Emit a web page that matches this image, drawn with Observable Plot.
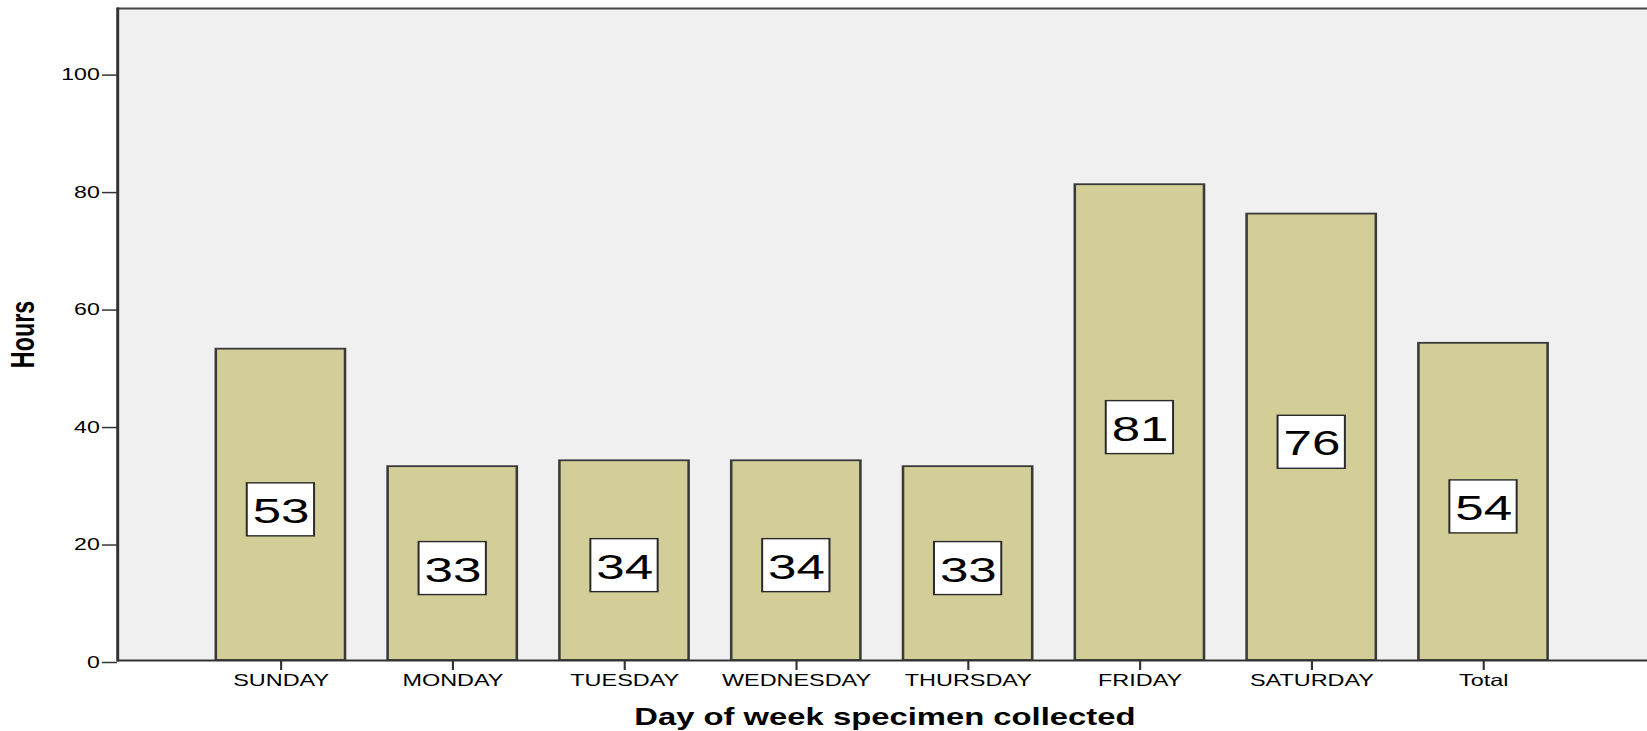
<!DOCTYPE html>
<html>
<head>
<meta charset="utf-8">
<script src="https://cdn.jsdelivr.net/npm/d3@7"></script>
<script src="https://cdn.jsdelivr.net/npm/@observablehq/plot@0.6"></script>
<style>
  html, body { margin: 0; padding: 0; background: #ffffff; overflow: hidden; }
  #chart svg { display: block; transform-origin: 0 0; transform: scaleX(1.41983); }
</style>
</head>
<body>
<div id="chart"></div>
<script>
const days = ["SUNDAY", "MONDAY", "TUESDAY", "WEDNESDAY", "THURSDAY", "FRIDAY", "SATURDAY", "Total"];
const hours = [53, 33, 34, 34, 33, 81, 76, 54];
const yTicks = [0, 20, 40, 60, 80, 100];
const yTitle = "Hours";
const xTitle = "Day of week specimen collected";

const data = days.map((d, i) => ({day: d, hours: hours[i]}));
const boxHalf = 4.51; // half height of the value label box, in hours
const font = "'Liberation Sans', Arial, sans-serif";

const chart = Plot.plot({
  width: 1160,
  height: 731,
  marginLeft: 82.4,
  marginRight: 0,
  marginTop: 8,
  marginBottom: 71,
  style: {fontFamily: font, background: "#ffffff", color: "#000"},
  x: {domain: days, paddingInner: 0.246, paddingOuter: 0.57, label: null},
  y: {domain: [0, 111], label: null},
  marks: [
    Plot.frame({fill: "#f0f0f0", stroke: null}),
    Plot.barY(data, {x: "day", y: "hours", fill: "#d3ce98", stroke: "#3a3a3a", strokeWidth: 1.8}),
    Plot.barY(data, {
      x: "day",
      y1: d => d.hours / 2 - boxHalf,
      y2: d => d.hours / 2 + boxHalf,
      insetLeft: 21.8, insetRight: 21.8,
      dy: 5,
      fill: "#ffffff", stroke: "#2a2a2a", strokeWidth: 1.4
    }),
    Plot.text(data, {
      x: "day", y: d => d.hours / 2, text: d => String(d.hours),
      fontSize: 36, fill: "#000", dy: 6.5, lineAnchor: "middle"
    }),
    Plot.ruleY([111], {stroke: "#444", strokeWidth: 2}),
    Plot.ruleY([0], {stroke: "#333", strokeWidth: 2}),
    Plot.frame({anchor: "left", stroke: "#333", strokeWidth: 2.1}),
    Plot.axisY({ticks: yTicks, tickSize: 10.6, tickPadding: 2, fontSize: 16.3, dy: 2, label: null, stroke: "#333", strokeWidth: 1.5, fill: "#000"}),
    Plot.axisX({tickSize: 10, tickPadding: 4, fontSize: 16.5, label: null, stroke: "#333", strokeWidth: 1.5, fill: "#000"}),
    Plot.text([yTitle], {frameAnchor: "left", textAnchor: "middle", dx: -59.2, rotate: -90, lineAnchor: "bottom", fontSize: 23.3, fontWeight: "bold", fill: "#000"}),
    Plot.text([xTitle], {frameAnchor: "bottom", textAnchor: "middle", dx: 1.5, dy: 64, lineAnchor: "bottom", fontSize: 23.1, fontWeight: "bold", fill: "#000"})
  ]
});
document.getElementById("chart").append(chart);
</script>
</body>
</html>
